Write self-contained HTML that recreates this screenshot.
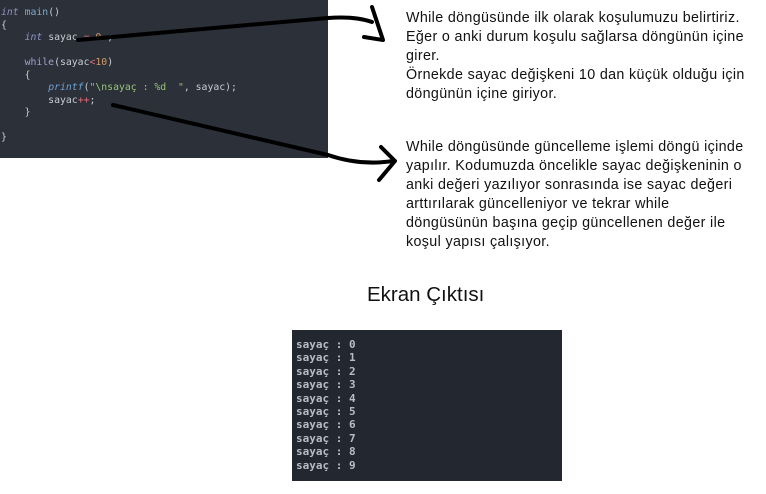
<!DOCTYPE html>
<html><head><meta charset="utf-8"><style>
body{margin:0;width:766px;height:494px;background:#fff;position:relative;overflow:hidden;font-family:"Liberation Sans",sans-serif}
.code{position:absolute;left:0;top:0;width:328px;height:158px;background:#2b3039}
.code pre{margin:0;position:absolute;left:1px;top:7px;font:9.8px/12.55px "DejaVu Sans Mono","Liberation Mono",monospace;color:#c8ccd4}
.k{color:#8e94c4;font-style:italic}.f{color:#7fa9c9}.n{color:#d19a66}.r{color:#e06c75}.s{color:#98c379}.w{color:#a6a0cf}
.t{position:absolute;font-size:14.3px;letter-spacing:0.35px;line-height:19px;color:#111;white-space:nowrap}
.term{position:absolute;left:292px;top:330px;width:270px;height:151px;background:#232730}
.term pre{margin:0;position:absolute;left:4px;top:8px;font:bold 11px/13.4px "DejaVu Sans Mono",monospace;color:#b8bcc4}
</style></head><body>
<div class="code"><pre><span class="k">int</span> <span class="f">main</span>()
{
    <span class="k">int</span> sayac <span class="r">=</span> <span class="n">0</span> ;

    <span class="w">while</span>(sayac<span class="r">&lt;</span><span class="n">10</span>)
    {
        <span class="k" style="color:#6fa0d0">printf</span>(<span class="s">"\nsayaç : %d  "</span>, sayac);
        sayac<span class="r">++</span>;
    }

}</pre></div>
<svg style="position:absolute;left:0;top:0" width="766" height="494">
<g fill="none" stroke="#000" stroke-width="4" stroke-linecap="round" stroke-linejoin="round">
<path d="M78 40 L328 18 Q355 16 372 22"/>
<path d="M372 7 L383 40 L364 37"/>
<path d="M113 105 L328 155 Q360 166 393 161"/>
<path d="M381 147 L395 161 L379 180"/>
</g></svg>
<div class="t" style="left:406px;top:9px">While döngüsünde ilk olarak koşulumuzu belirtiriz.<br>Eğer o anki durum koşulu sağlarsa döngünün içine<br>girer.<br>Örnekde sayac değişkeni 10 dan küçük olduğu için<br>döngünün içine giriyor.</div>
<div class="t" style="left:406px;top:138px">While döngüsünde güncelleme işlemi döngü içinde<br>yapılır. Kodumuzda öncelikle sayac değişkeninin o<br>anki değeri yazılıyor sonrasında ise sayac değeri<br>arttırılarak güncelleniyor ve tekrar while<br>döngüsünün başına geçip güncellenen değer ile<br>koşul yapısı çalışıyor.</div>
<div style="position:absolute;left:367px;top:283px;font-size:20.5px;color:#111">Ekran Çıktısı</div>
<div class="term"><pre>sayaç : 0
sayaç : 1
sayaç : 2
sayaç : 3
sayaç : 4
sayaç : 5
sayaç : 6
sayaç : 7
sayaç : 8
sayaç : 9</pre></div>
</body></html>
